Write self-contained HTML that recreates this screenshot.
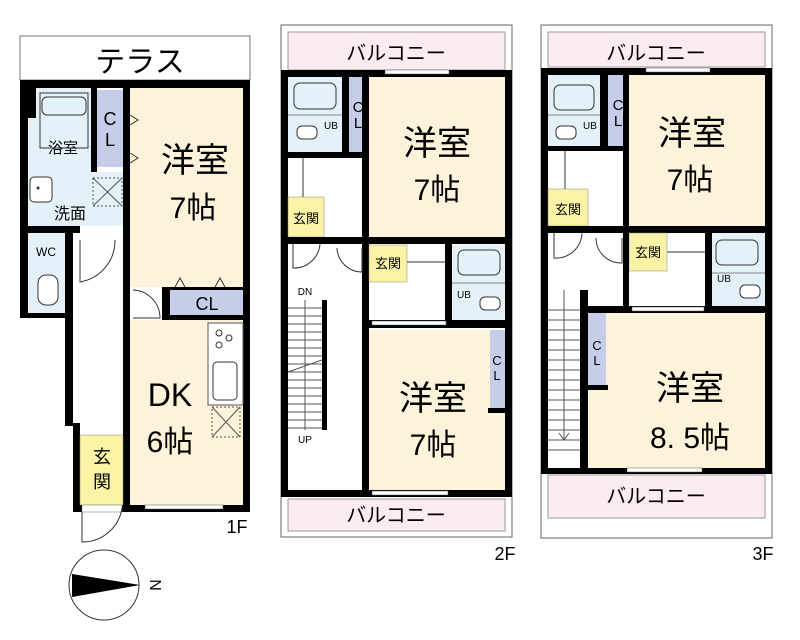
<!DOCTYPE html>
<html><head><meta charset="utf-8"><style>
body{margin:0;background:#fff}
svg{display:block}
text{font-family:"Liberation Sans","Noto Sans CJK JP",sans-serif;fill:#000}
</style></head><body>
<svg width="800" height="640" viewBox="0 0 800 640" xmlns="http://www.w3.org/2000/svg">
<!-- ============ 1F ============ -->
<rect x="20" y="36" width="230" height="44" fill="#fff" stroke="#777" stroke-width="1"/>
<text x="140" y="72" font-size="30" text-anchor="middle">テラス</text>
<rect x="20" y="80" width="230" height="8" fill="#000"/>
<rect x="20" y="80" width="8" height="238" fill="#000"/>
<rect x="243" y="80" width="7" height="432" fill="#000"/>
<rect x="20" y="312" width="53" height="6" fill="#000"/>
<rect x="28" y="88" width="63" height="84" fill="#e4f1f8"/>
<rect x="28" y="88" width="8" height="30" fill="#000"/>
<rect x="40" y="93" width="48" height="55" fill="none" stroke="#333" stroke-width="1"/>
<rect x="42" y="97" width="44" height="18" rx="5" fill="none" stroke="#333"/>
<text x="63" y="153" font-size="15" text-anchor="middle">浴室</text>
<rect x="91" y="88" width="6" height="84" fill="#000"/>
<rect x="97" y="90" width="26" height="77" fill="#c6cde8"/>
<text x="110" y="125" font-size="18" text-anchor="middle">C</text>
<text x="110" y="146" font-size="18" text-anchor="middle">L</text>
<rect x="123" y="88" width="7" height="145" fill="#000"/>
<rect x="130" y="88" width="113" height="199" fill="#fdf3da"/>
<text x="195" y="172" font-size="34" text-anchor="middle">洋室</text>
<text x="193" y="218" font-size="30" text-anchor="middle">7帖</text>
<path d="M130 115 l8 5 l-8 5 M130 153 l8 5 l-8 5" fill="none" stroke="#333"/>
<rect x="28" y="172" width="95" height="54" fill="#e4f1f8"/>
<rect x="30" y="177" width="22" height="25" rx="4" fill="#fff" stroke="#333"/>
<circle cx="38" cy="188" r="1.5" fill="#333"/>
<rect x="93" y="178" width="29" height="28" fill="none" stroke="#555" stroke-dasharray="2,2"/>
<path d="M93 178 L122 206 M122 178 L93 206" stroke="#555"/>
<text x="70" y="219" font-size="16" text-anchor="middle">洗面</text>
<rect x="28" y="226" width="52" height="7" fill="#000"/>
<rect x="28" y="233" width="37" height="80" fill="#e4f1f8"/>
<text x="46" y="256" font-size="12" text-anchor="middle">WC</text>
<rect x="38" y="275" width="20" height="30" rx="8" fill="#fff" stroke="#333"/>
<rect x="65" y="226" width="8" height="200" fill="#000"/>
<rect x="73" y="423" width="7" height="89" fill="#000"/>
<path d="M80 240 L80 282 A42 42 0 0 0 115 240" fill="none" stroke="#333"/>
<rect x="123" y="233" width="7" height="279" fill="#000"/>
<rect x="162" y="287" width="81" height="33" fill="#000"/>
<rect x="170" y="290" width="73" height="25" fill="#c6cde8"/>
<text x="207" y="310" font-size="18" text-anchor="middle">CL</text>
<path d="M175 287 l5 -9 l5 9 M215 287 l5 -9 l5 9" fill="none" stroke="#333"/>
<path d="M133 290 A28 28 0 0 1 160 318 L133 318" fill="none" stroke="#333"/>
<rect x="130" y="320" width="113" height="185" fill="#fdf3da"/>
<rect x="208" y="323" width="35" height="82" fill="#fff" stroke="#555"/>
<circle cx="219" cy="333" r="3" fill="none" stroke="#333"/><circle cx="229" cy="338" r="3" fill="none" stroke="#333"/><circle cx="219" cy="345" r="3" fill="none" stroke="#333"/>
<rect x="213" y="362" width="24" height="38" rx="4" fill="none" stroke="#333"/>
<rect x="212" y="407" width="28" height="30" fill="none" stroke="#555" stroke-dasharray="2,2"/>
<path d="M212 407 L240 437 M240 407 L212 437" stroke="#555"/>
<text x="170" y="406" font-size="32" text-anchor="middle">DK</text>
<text x="170" y="452" font-size="30" text-anchor="middle">6帖</text>
<rect x="80" y="435" width="43" height="70" fill="#fbf3a6" stroke="#888" stroke-width="0.5"/>
<text x="102" y="463" font-size="18" text-anchor="middle">玄</text>
<text x="102" y="488" font-size="18" text-anchor="middle">関</text>
<rect x="73" y="505" width="177" height="7" fill="#000"/>
<rect x="82" y="505" width="40" height="7" fill="#fff" stroke="#777" stroke-width="0.5"/>
<rect x="145" y="505" width="78" height="4" fill="#fff" stroke="#555" stroke-width="0.5"/>
<path d="M82 512 L82 542 A40 40 0 0 0 122 508" fill="none" stroke="#333"/>
<text x="237" y="533" font-size="18" text-anchor="middle">1F</text>
<circle cx="104" cy="585" r="35" fill="#fff" stroke="#333"/>
<polygon points="72,574 72,597 140,585" fill="#000"/>
<text x="154" y="585" font-size="16" text-anchor="middle" dominant-baseline="middle" transform="rotate(90 154 585)">N</text>

<!-- ============ 2F ============ -->
<rect x="281" y="25" width="231" height="512" fill="none" stroke="#666"/>
<rect x="288" y="32" width="217" height="38" fill="#fcecf2" stroke="#999"/>
<text x="396" y="60" font-size="20" text-anchor="middle">バルコニー</text>
<rect x="281" y="70" width="231" height="7" fill="#000"/>
<rect x="385" y="70" width="64" height="4" fill="#fff" stroke="#555" stroke-width="0.5"/>
<rect x="281" y="70" width="7" height="427" fill="#000"/>
<rect x="505" y="70" width="7" height="427" fill="#000"/>
<rect x="288" y="77" width="54" height="78" fill="#e4f1f8"/>
<rect x="294" y="83" width="42" height="26" rx="6" fill="none" stroke="#333"/>
<path d="M288 115 H342" stroke="#888"/>
<rect x="297" y="126" width="20" height="13" rx="5" fill="#fff" stroke="#333"/>
<text x="331" y="129" font-size="10" text-anchor="middle">UB</text>
<rect x="342" y="77" width="7" height="80" fill="#000"/>
<rect x="349" y="77" width="18" height="75" fill="#c6cde8"/>
<text x="358" y="112" font-size="15" text-anchor="middle">C</text>
<text x="358" y="128" font-size="15" text-anchor="middle">L</text>
<rect x="288" y="152" width="80" height="6" fill="#000"/>
<rect x="362" y="77" width="7" height="420" fill="#000"/>
<rect x="369" y="77" width="136" height="161" fill="#fdf3da"/>
<text x="437" y="155" font-size="34" text-anchor="middle">洋室</text>
<text x="437" y="200" font-size="30" text-anchor="middle">7帖</text>
<rect x="288" y="197" width="36" height="40" fill="#fbf3a6" stroke="#888" stroke-width="0.5"/>
<text x="306" y="223" font-size="13" text-anchor="middle">玄関</text>
<path d="M303 158 V197" stroke="#333"/>
<rect x="281" y="237" width="231" height="7" fill="#000"/>
<rect x="369" y="245" width="38" height="37" fill="#fbf3a6" stroke="#888" stroke-width="0.5"/>
<text x="388" y="268" font-size="13" text-anchor="middle">玄関</text>
<path d="M407 262 H445" stroke="#333"/>
<rect x="445" y="244" width="7" height="78" fill="#000"/>
<rect x="452" y="245" width="53" height="75" fill="#e4f1f8"/>
<rect x="458" y="250" width="42" height="25" rx="6" fill="none" stroke="#333"/>
<path d="M452 283 H505" stroke="#888"/>
<text x="464" y="298" font-size="10" text-anchor="middle">UB</text>
<rect x="480" y="297" width="20" height="13" rx="5" fill="#fff" stroke="#333"/>
<rect x="369" y="320" width="143" height="8" fill="#000"/>
<rect x="372" y="321" width="74" height="4" fill="#fff" stroke="#555" stroke-width="0.5"/>
<path d="M293 244 V268 A26 26 0 0 0 320 244" fill="none" stroke="#333"/>
<path d="M337 248 A25 25 0 0 0 362 272 V248" fill="none" stroke="#333"/>
<text x="305" y="295" font-size="10" text-anchor="middle">DN</text>
<rect x="288" y="300" width="34" height="130" fill="#fff"/>
<g stroke="#555">
<path d="M288 308 H322 M288 316 H322 M288 324 H322 M288 332 H322 M288 340 H322 M288 348 H322 M288 356 H322 M288 364 H322 M288 372 H322 M288 380 H322 M288 388 H322 M288 396 H322 M288 404 H322 M288 412 H322 M288 420 H322 M288 428 H322"/>
<path d="M305 300 V430 M288 372 L322 360"/>
</g>
<rect x="322" y="300" width="5" height="130" fill="#000"/>
<text x="305" y="443" font-size="10" text-anchor="middle">UP</text>
<rect x="369" y="330" width="136" height="160" fill="#fdf3da"/>
<rect x="490" y="330" width="15" height="80" fill="#c6cde8"/>
<rect x="488" y="408" width="17" height="5" fill="#000"/>
<text x="497" y="365" font-size="13" text-anchor="middle">C</text>
<text x="497" y="380" font-size="13" text-anchor="middle">L</text>
<text x="433" y="410" font-size="34" text-anchor="middle">洋室</text>
<text x="433" y="455" font-size="30" text-anchor="middle">7帖</text>
<rect x="281" y="490" width="231" height="7" fill="#000"/>
<rect x="372" y="491" width="76" height="4" fill="#fff" stroke="#555" stroke-width="0.5"/>
<rect x="288" y="499" width="217" height="32" fill="#fcecf2" stroke="#999"/>
<text x="396" y="522" font-size="20" text-anchor="middle">バルコニー</text>
<text x="505" y="560" font-size="18" text-anchor="middle">2F</text>

<!-- ============ 3F ============ -->
<rect x="541" y="25" width="231" height="513" fill="none" stroke="#666"/>
<rect x="548" y="32" width="217" height="35" fill="#fcecf2" stroke="#999"/>
<text x="656" y="60" font-size="20" text-anchor="middle">バルコニー</text>
<rect x="541" y="68" width="231" height="7" fill="#000"/>
<rect x="646" y="68" width="64" height="4" fill="#fff" stroke="#555" stroke-width="0.5"/>
<rect x="541" y="68" width="7" height="405" fill="#000"/>
<rect x="765" y="68" width="7" height="405" fill="#000"/>
<rect x="548" y="75" width="52" height="72" fill="#e4f1f8"/>
<rect x="554" y="85" width="40" height="25" rx="6" fill="none" stroke="#333"/>
<path d="M548 115 H600" stroke="#888"/>
<rect x="556" y="126" width="20" height="13" rx="5" fill="#fff" stroke="#333"/>
<text x="590" y="129" font-size="10" text-anchor="middle">UB</text>
<rect x="600" y="75" width="8" height="75" fill="#000"/>
<rect x="608" y="75" width="20" height="72" fill="#c6cde8"/>
<text x="618" y="110" font-size="15" text-anchor="middle">C</text>
<text x="618" y="126" font-size="15" text-anchor="middle">L</text>
<rect x="548" y="146" width="80" height="5" fill="#000"/>
<rect x="623" y="75" width="6" height="158" fill="#000"/>
<rect x="629" y="75" width="136" height="152" fill="#fdf3da"/>
<text x="692" y="145" font-size="34" text-anchor="middle">洋室</text>
<text x="690" y="190" font-size="30" text-anchor="middle">7帖</text>
<rect x="548" y="189" width="40" height="37" fill="#fbf3a6" stroke="#888" stroke-width="0.5"/>
<text x="568" y="214" font-size="13" text-anchor="middle">玄関</text>
<path d="M565 151 V189" stroke="#333"/>
<rect x="541" y="226" width="231" height="7" fill="#000"/>
<rect x="629" y="233" width="38" height="38" fill="#fbf3a6" stroke="#888" stroke-width="0.5"/>
<text x="648" y="257" font-size="13" text-anchor="middle">玄関</text>
<path d="M667 252 H705" stroke="#333"/>
<rect x="705" y="233" width="7" height="80" fill="#000"/>
<rect x="712" y="233" width="53" height="73" fill="#e4f1f8"/>
<rect x="716" y="240" width="42" height="25" rx="6" fill="none" stroke="#333"/>
<path d="M712 273 H765" stroke="#888"/>
<text x="724" y="282" font-size="10" text-anchor="middle">UB</text>
<rect x="740" y="285" width="20" height="13" rx="5" fill="#fff" stroke="#333"/>
<rect x="623" y="233" width="6" height="80" fill="#000"/>
<rect x="580" y="306" width="192" height="7" fill="#000"/>
<rect x="632" y="307" width="72" height="4" fill="#fff" stroke="#555" stroke-width="0.5"/>
<path d="M554 233 V258 A26 26 0 0 0 582 233" fill="none" stroke="#333"/>
<path d="M596 238 A25 25 0 0 0 622 263 V238" fill="none" stroke="#333"/>
<text x="565" y="300" font-size="10" text-anchor="middle">DN</text>
<rect x="548" y="290" width="32" height="175" fill="#fff"/>
<g stroke="#555">
<path d="M548 310 H580 M548 320 H580 M548 330 H580 M548 340 H580 M548 350 H580 M548 360 H580 M548 370 H580 M548 380 H580 M548 390 H580 M548 400 H580 M548 410 H580 M548 420 H580 M548 430 H580 M548 440 H580 M548 450 H580"/>
<path d="M564 290 V440 M559 433 L564 440 L569 433" fill="none"/>
</g>
<rect x="580" y="290" width="8" height="183" fill="#000"/>
<rect x="588" y="313" width="177" height="155" fill="#fdf3da"/>
<rect x="588" y="313" width="18" height="72" fill="#c6cde8"/>
<rect x="588" y="385" width="20" height="5" fill="#000"/>
<text x="597" y="350" font-size="13" text-anchor="middle">C</text>
<text x="597" y="365" font-size="13" text-anchor="middle">L</text>
<text x="690" y="400" font-size="34" text-anchor="middle">洋室</text>
<text x="690" y="448" font-size="30" text-anchor="middle">8. 5帖</text>
<rect x="541" y="468" width="231" height="6" fill="#000"/>
<rect x="627" y="468" width="75" height="4" fill="#fff" stroke="#555" stroke-width="0.5"/>
<rect x="548" y="475" width="217" height="43" fill="#fcecf2" stroke="#999"/>
<text x="656" y="503" font-size="20" text-anchor="middle">バルコニー</text>
<text x="763" y="560" font-size="18" text-anchor="middle">3F</text>
</svg>
</body></html>
